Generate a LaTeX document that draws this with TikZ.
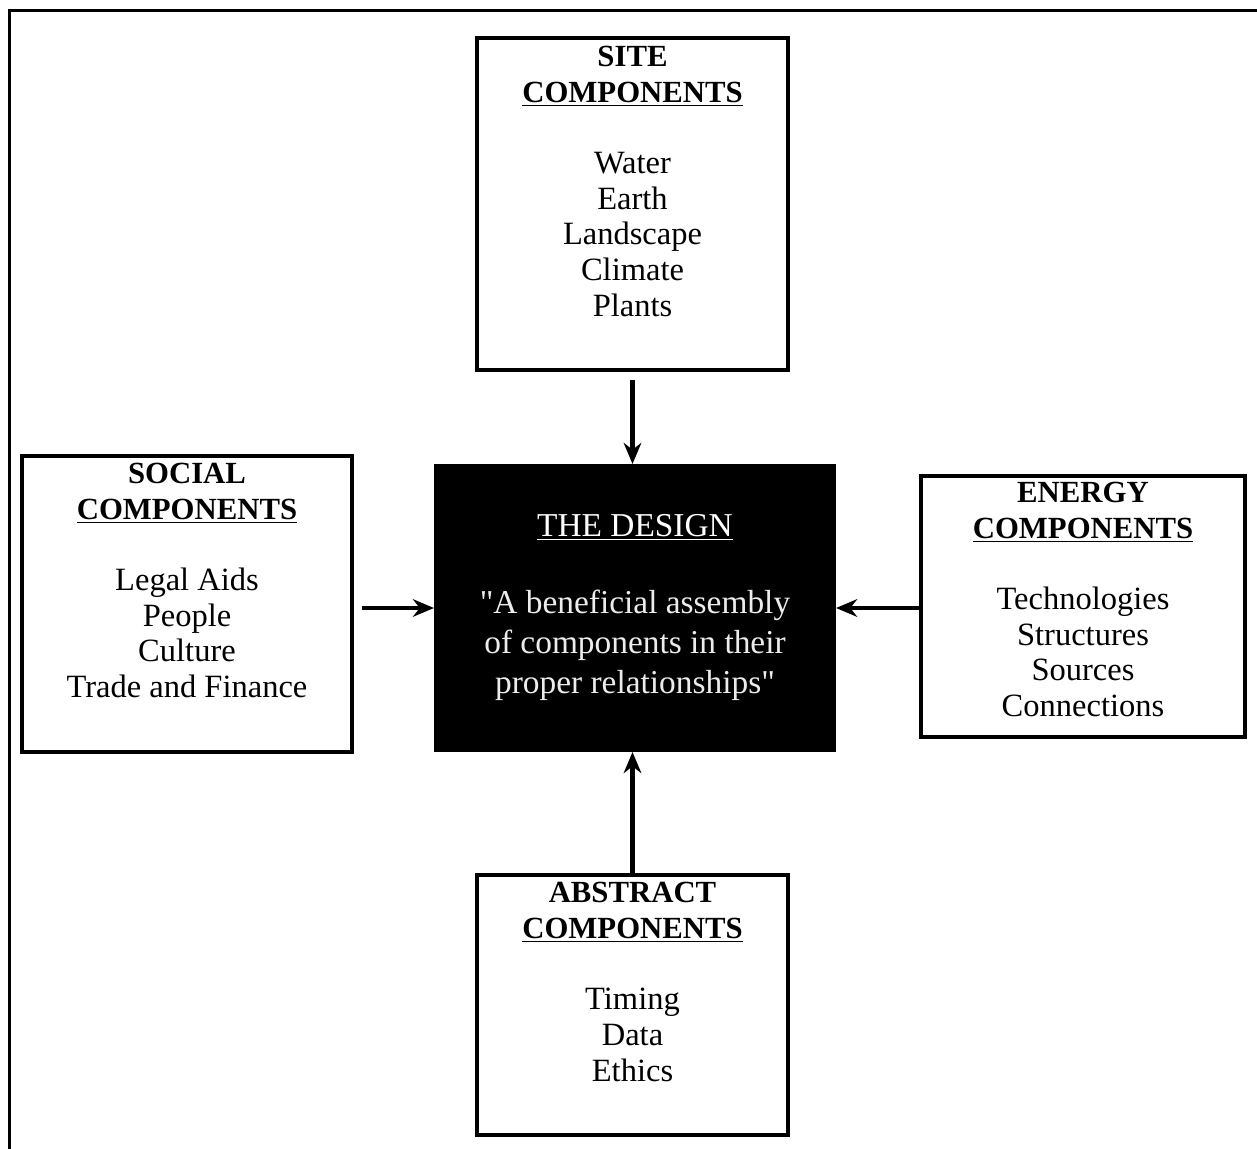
\documentclass[tikz,border=0pt]{standalone}
\usepackage{fontspec}
\setmainfont{Liberation Serif}[Ligatures=TeXOff]
\usetikzlibrary{arrows.meta}

\newcommand{\hd}[1]{{\fontsize{17.5}{19.8}\selectfont\bfseries #1}}

\begin{document}
\begin{tikzpicture}[->,>={Stealth[length=12pt,width=10pt]},line width=2.4pt]

  \tikzstyle{box}=[draw,line width=2.3pt,inner sep=0pt]
  \tikzstyle{txt}=[align=center,anchor=north,inner sep=0pt,
                   font=\fontsize{18.5}{20.4}\selectfont]

  \useasboundingbox (0,0) rectangle (25.14,-22.98);
  \draw[-,line width=1.7pt] (0.19,-22.98) -- (0.19,-0.21) -- (25.14,-0.21);

  % boxes
  \node[box,minimum width=6.22cm,minimum height=6.64cm] (site)     at (12.65,-4.08)  {};
  \node[box,minimum width=6.60cm,minimum height=5.92cm] (social)   at (3.74,-12.08)  {};
  \node[box,fill=black,minimum width=7.96cm,minimum height=5.68cm] (design) at (12.70,-12.16) {};
  \node[box,minimum width=6.48cm,minimum height=5.22cm] (energy)   at (21.66,-12.13) {};
  \node[box,minimum width=6.22cm,minimum height=5.20cm] (abstract) at (12.65,-20.10) {};

  % texts
  \node[txt] (sitetxt) at ([yshift=-0.16cm]site.north)
    {\hd{SITE}\\\hd{\underline{COMPONENTS}}\\[20pt]
     Water\\Earth\\Landscape\\Climate\\Plants};
  \node[txt] (socialtxt) at ([yshift=-0.14cm]social.north)
    {\hd{SOCIAL}\\\hd{\underline{COMPONENTS}}\\[20pt]
     Legal Aids\\People\\Culture\\Trade and Finance};
  \node[txt] (energytxt) at ([yshift=-0.12cm]energy.north)
    {\hd{ENERGY}\\\hd{\underline{COMPONENTS}}\\[20pt]
     Technologies\\Structures\\Sources\\Connections};
  \node[txt] (abstracttxt) at ([yshift=-0.14cm]abstract.north)
    {\hd{ABSTRACT}\\\hd{\underline{COMPONENTS}}\\[20pt]
     Timing\\Data\\Ethics};
  \node[txt,text=gray!15,font=\fontsize{19}{22.7}\selectfont] (designtxt)
    at ([yshift=-0.96cm]design.north)
    {\textcolor{white}{\underline{THE DESIGN}}\\[21.5pt]
     "A beneficial assembly\\of components in their\\proper relationships"};

  % arrows
  \draw[shorten <=0.16cm] (site.south) -- (site.south |- design.north);
  \draw[shorten <=0.16cm] (social.east |- design.west) -- (design.west);
  \draw (energy.west |- design.east) -- (design.east);
  \draw (abstract.north) -- (abstract.north |- design.south);
\end{tikzpicture}
\end{document}
